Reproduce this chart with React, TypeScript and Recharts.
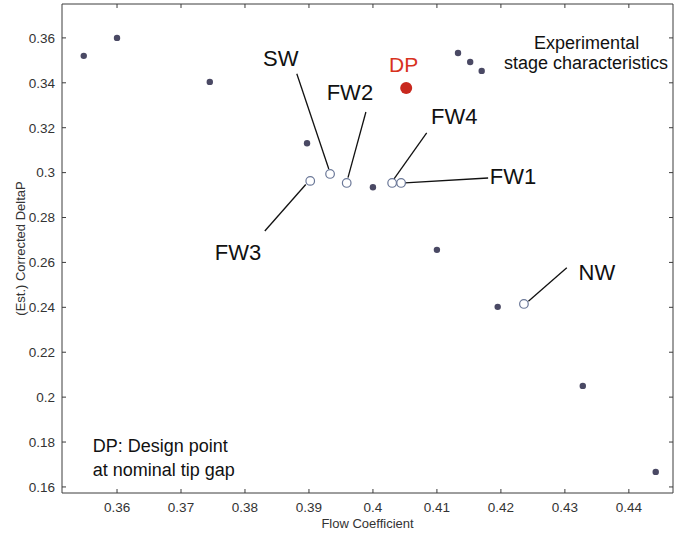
import React from 'react';
import { ScatterChart, Scatter, XAxis, YAxis, ReferenceLine } from 'recharts';

// axis ticks
const xTicks = [0.36, 0.37, 0.38, 0.39, 0.4, 0.41, 0.42, 0.43, 0.44];
const yTicks = [0.16, 0.18, 0.2, 0.22, 0.24, 0.26, 0.28, 0.3, 0.32, 0.34, 0.36];

// experimental stage characteristics (filled dots)
const stagePoints = [
  { x: 0.3548, y: 0.352 },
  { x: 0.36, y: 0.36 },
  { x: 0.3745, y: 0.3404 },
  { x: 0.3897, y: 0.3131 },
  { x: 0.4, y: 0.2935 },
  { x: 0.41, y: 0.2656 },
  { x: 0.4133, y: 0.3533 },
  { x: 0.4152, y: 0.3493 },
  { x: 0.417, y: 0.3453 },
  { x: 0.4195, y: 0.2402 },
  { x: 0.4328, y: 0.205 },
  { x: 0.4442, y: 0.1667 },
];

// tip gap variants (open circles)
const variantPoints = [
  { name: 'SW', x: 0.3933, y: 0.2994 },
  { name: 'FW3', x: 0.3902, y: 0.2963 },
  { name: 'FW2', x: 0.3959, y: 0.2954 },
  { name: 'FW4', x: 0.403, y: 0.2954 },
  { name: 'FW1', x: 0.4044, y: 0.2954 },
  { name: 'NW', x: 0.4236, y: 0.2415 },
];

const designPoint = [{ x: 0.4052, y: 0.3377 }];

// leader lines from label to point
const leaders = [
  { name: 'SW', from: [0.3881, 0.344], to: [0.3931, 0.3016] },
  { name: 'FW2', from: [0.3989, 0.327], to: [0.3961, 0.2978] },
  { name: 'FW4', from: [0.4084, 0.3177], to: [0.4033, 0.2972] },
  { name: 'FW1', from: [0.418, 0.2976], to: [0.405, 0.2954] },
  { name: 'FW3', from: [0.3831, 0.274], to: [0.3895, 0.2947] },
  { name: 'NW', from: [0.4303, 0.2576], to: [0.4243, 0.2427] },
];

const variantLabels = [
  { text: 'SW', x: 0.3856, y: 0.3507 },
  { text: 'FW2', x: 0.3964, y: 0.3355 },
  { text: 'FW4', x: 0.4127, y: 0.3248 },
  { text: 'FW1', x: 0.4219, y: 0.2981 },
  { text: 'FW3', x: 0.3789, y: 0.2642 },
  { text: 'NW', x: 0.435, y: 0.2553 },
];

const dpLabel = [{ text: 'DP', x: 0.4048, y: 0.348 }];

const noteLabels = [
  { text: 'Experimental', x: 0.4334, y: 0.3578, anchor: 'middle' },
  { text: 'stage characteristics', x: 0.4333, y: 0.349, anchor: 'middle' },
  { text: 'DP: Design point', x: 0.3562, y: 0.1783, anchor: 'start' },
  { text: 'at nominal tip gap', x: 0.3562, y: 0.1676, anchor: 'start' },
];

const FONT = 'Liberation Sans, Arial, sans-serif';
const AXIS = '#3c3c3c';

const EmptyTick = () => <g />;

const textShape = (size: number, color: string) => (props: any) => (
  <text
    x={props.cx}
    y={props.cy}
    textAnchor={props.payload.anchor || 'middle'}
    dominantBaseline="central"
    fontFamily={FONT}
    fontSize={size}
    fill={color}
  >
    {props.payload.text}
  </text>
);

const App = () => {
  return (
    <div style={{ position: 'absolute', left: 0, top: 0, background: '#fff' }}>
      <ScatterChart
        width={675}
        height={533}
        margin={{ top: 0, right: 0, bottom: 0, left: 0 }}
      >
        <XAxis
          xAxisId="bottom"
          type="number"
          dataKey="x"
          domain={[0.3514, 0.4469]}
          ticks={xTicks}
          allowDataOverflow
          height={40}
          tickSize={-4}
          tickMargin={13}
          stroke={AXIS}
          tick={{ fill: '#333', fontSize: 13.5, fontFamily: FONT }}
          tickFormatter={(v: number) => String(v)}
          label={{
            value: 'Flow Coefficient',
            position: 'insideBottom',
            offset: 5,
            fill: '#333',
            fontSize: 13,
            fontFamily: FONT,
          }}
        />
        <XAxis
          xAxisId="top"
          orientation="top"
          type="number"
          dataKey="x"
          domain={[0.3514, 0.4469]}
          ticks={xTicks}
          allowDataOverflow
          height={4}
          tickSize={-4}
          stroke={AXIS}
          tick={EmptyTick}
        />
        <YAxis
          yAxisId="left"
          type="number"
          dataKey="y"
          domain={[0.1573, 0.3751]}
          ticks={yTicks}
          allowDataOverflow
          width={62}
          tickSize={-4}
          tickMargin={11}
          stroke={AXIS}
          tick={{ fill: '#333', fontSize: 13.5, fontFamily: FONT }}
          tickFormatter={(v: number) => String(v)}
          label={{
            content: (p: any) => {
              const vb = p.viewBox;
              const cx = 20;
              const cy = vb.y + vb.height / 2;
              return (
                <text
                  x={cx}
                  y={cy}
                  transform={`rotate(-90 ${cx} ${cy})`}
                  textAnchor="middle"
                  dominantBaseline="central"
                  fontFamily={FONT}
                  fontSize={13}
                  fill="#333"
                >
                  (Est.) Corrected DeltaP
                </text>
              );
            },
          }}
        />
        <YAxis
          yAxisId="right"
          orientation="right"
          type="number"
          dataKey="y"
          domain={[0.1573, 0.3751]}
          ticks={yTicks}
          allowDataOverflow
          width={2}
          tickSize={-4}
          stroke={AXIS}
          tick={EmptyTick}
        />

        {leaders.map((l) => (
          <ReferenceLine
            key={l.name}
            xAxisId="bottom"
            yAxisId="left"
            segment={[
              { x: l.from[0], y: l.from[1] },
              { x: l.to[0], y: l.to[1] },
            ]}
            stroke="#111"
            strokeWidth={1.3}
            ifOverflow="visible"
          />
        ))}

        <Scatter
          xAxisId="bottom"
          yAxisId="left"
          data={stagePoints}
          isAnimationActive={false}
          shape={(p: any) => <circle cx={p.cx} cy={p.cy} r={3.2} fill="#4a4964" />}
        />
        <Scatter
          xAxisId="bottom"
          yAxisId="left"
          data={variantPoints}
          isAnimationActive={false}
          shape={(p: any) => (
            <circle cx={p.cx} cy={p.cy} r={4.3} fill="#fff" stroke="#6b7898" strokeWidth={1.2} />
          )}
        />
        <Scatter
          xAxisId="bottom"
          yAxisId="left"
          data={designPoint}
          isAnimationActive={false}
          shape={(p: any) => <circle cx={p.cx} cy={p.cy} r={6} fill="#c8281e" />}
        />
        <Scatter
          xAxisId="bottom"
          yAxisId="left"
          data={variantLabels}
          isAnimationActive={false}
          shape={textShape(22, '#111')}
        />
        <Scatter
          xAxisId="bottom"
          yAxisId="left"
          data={dpLabel}
          isAnimationActive={false}
          shape={textShape(21, '#d8321e')}
        />
        <Scatter
          xAxisId="bottom"
          yAxisId="left"
          data={noteLabels}
          isAnimationActive={false}
          shape={textShape(18, '#111')}
        />
      </ScatterChart>
    </div>
  );
};

export default App;
